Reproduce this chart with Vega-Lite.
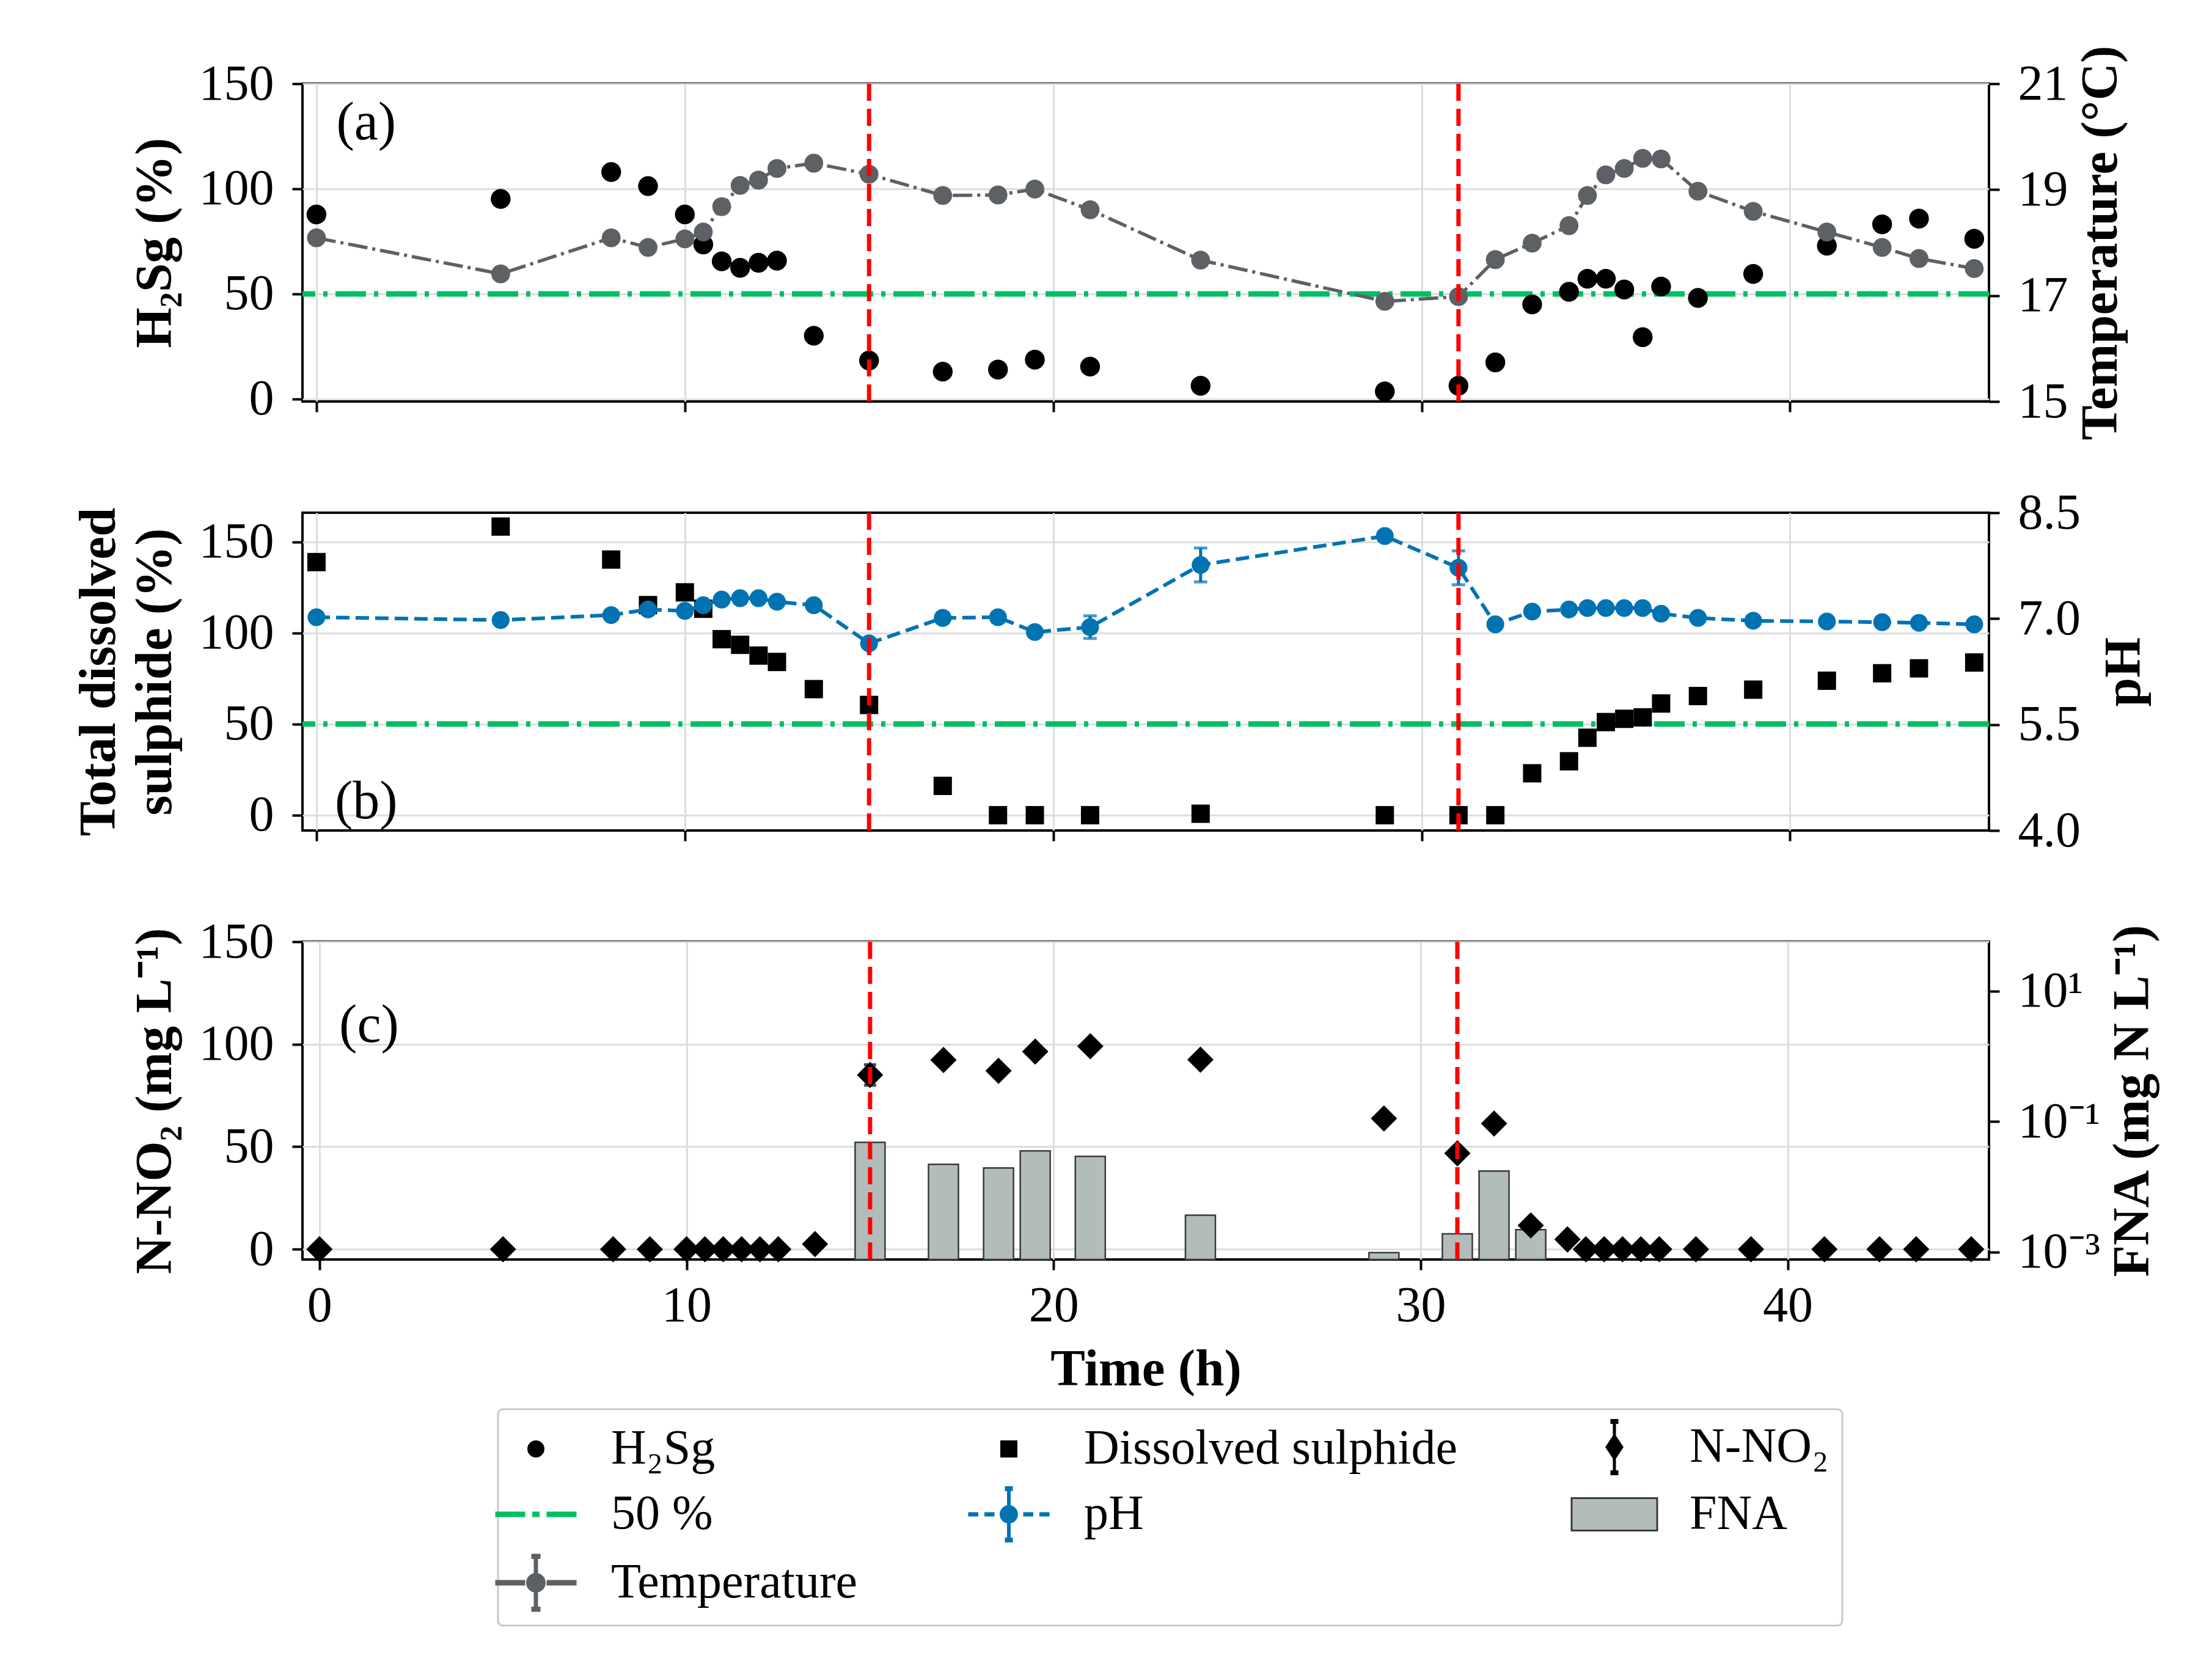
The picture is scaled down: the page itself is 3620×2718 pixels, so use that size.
{
  "$schema": "https://vega.github.io/schema/vega-lite/v6.json",
  "padding": {"left": 117, "top": 72, "right": 40, "bottom": 20},
  "background": "white",
  "datasets": {
    "d": [
      {"t": 0, "h2s": 87.8, "temp": 18.09, "diss": 138.9, "ph": 7.02, "nno2": 0},
      {"t": 5, "h2s": 95.2, "temp": 17.41, "diss": 158.4, "ph": 6.98, "nno2": 0},
      {"t": 8, "h2s": 108, "temp": 18.09, "diss": 140.3, "ph": 7.05, "nno2": 0},
      {"t": 9, "h2s": 101.3, "temp": 17.91, "diss": 115.3, "ph": 7.13, "nno2": 0},
      {"t": 10, "h2s": 87.8, "temp": 18.07, "diss": 122.3, "ph": 7.11, "nno2": 0},
      {"t": 10.5, "h2s": 73.5, "temp": 18.2, "diss": 113.3, "ph": 7.19, "nno2": 0},
      {"t": 11, "h2s": 65.5, "temp": 18.68, "diss": 96.6, "ph": 7.27, "nno2": 0},
      {"t": 11.5, "h2s": 62.4, "temp": 19.08, "diss": 93.5, "ph": 7.29, "nno2": 0},
      {"t": 12, "h2s": 64.8, "temp": 19.18, "diss": 87.6, "ph": 7.29, "nno2": 0},
      {"t": 12.5, "h2s": 65.8, "temp": 19.4, "diss": 84.1, "ph": 7.24, "nno2": 0},
      {"t": 13.5, "h2s": 30.1, "temp": 19.5, "diss": 69.2, "ph": 7.19, "nno2": 2.5},
      {"t": 15, "h2s": 18.3, "temp": 19.29, "diss": 60.5, "ph": 6.65, "nno2": 85},
      {"t": 17, "h2s": 13, "temp": 18.89, "diss": 16.1, "ph": 7.01, "nno2": 92.3},
      {"t": 18.5, "h2s": 14, "temp": 18.9, "diss": 0, "ph": 7.02, "nno2": 87},
      {"t": 19.5, "h2s": 18.7, "temp": 19.01, "diss": 0, "ph": 6.81, "nno2": 96.4},
      {"t": 21, "h2s": 15.4, "temp": 18.62, "diss": 0, "ph": 6.88, "nno2": 99},
      {"t": 24, "h2s": 6.3, "temp": 17.67, "diss": 0.8, "ph": 7.76, "nno2": 92.5},
      {"t": 29, "h2s": 3.6, "temp": 16.89, "diss": 0, "ph": 8.17, "nno2": 63.8},
      {"t": 31, "h2s": 6.3, "temp": 16.98, "diss": 0, "ph": 7.72, "nno2": 46.8},
      {"t": 32, "h2s": 17.4, "temp": 17.68, "diss": 0, "ph": 6.92, "nno2": 61.3},
      {"t": 33, "h2s": 45, "temp": 17.99, "diss": 23, "ph": 7.1, "nno2": 11.6},
      {"t": 34, "h2s": 51, "temp": 18.32, "diss": 29.6, "ph": 7.13, "nno2": 4.8},
      {"t": 34.5, "h2s": 57.2, "temp": 18.89, "diss": 42.5, "ph": 7.15, "nno2": 0},
      {"t": 35, "h2s": 57.2, "temp": 19.28, "diss": 51.1, "ph": 7.15, "nno2": 0},
      {"t": 35.5, "h2s": 52.1, "temp": 19.4, "diss": 52.9, "ph": 7.15, "nno2": 0},
      {"t": 36, "h2s": 29.4, "temp": 19.59, "diss": 53.7, "ph": 7.15, "nno2": 0},
      {"t": 36.5, "h2s": 53.5, "temp": 19.58, "diss": 61.3, "ph": 7.07, "nno2": 0},
      {"t": 37.5, "h2s": 48.1, "temp": 18.97, "diss": 65.4, "ph": 7.01, "nno2": 0},
      {"t": 39, "h2s": 59.5, "temp": 18.59, "diss": 68.9, "ph": 6.97, "nno2": 0},
      {"t": 41, "h2s": 72.9, "temp": 18.2, "diss": 73.8, "ph": 6.96, "nno2": 0},
      {"t": 42.5, "h2s": 83.1, "temp": 17.91, "diss": 77.9, "ph": 6.95, "nno2": 0},
      {"t": 43.5, "h2s": 85.8, "temp": 17.7, "diss": 80.6, "ph": 6.94, "nno2": 0},
      {"t": 45, "h2s": 76.2, "temp": 17.51, "diss": 83.8, "ph": 6.92, "nno2": 0}
    ],
    "fna": [
      {"t": 15, "fna": 0.048},
      {"t": 17, "fna": 0.0222},
      {"t": 18.5, "fna": 0.0195},
      {"t": 19.5, "fna": 0.0356},
      {"t": 21, "fna": 0.0293},
      {"t": 24, "fna": 0.00367},
      {"t": 29, "fna": 0.00098},
      {"t": 31, "fna": 0.0019},
      {"t": 32, "fna": 0.0175},
      {"t": 33, "fna": 0.0022}
    ],
    "pherr": [
      {"t": 17, "lo": 6.94, "hi": 7.08},
      {"t": 18.5, "lo": 6.95, "hi": 7.09},
      {"t": 21, "lo": 6.72, "hi": 7.04},
      {"t": 24, "lo": 7.52, "hi": 8.0},
      {"t": 31, "lo": 7.48, "hi": 7.96}
    ],
    "nerr": [
      {"t": 15, "lo": 80, "hi": 90}
    ],
    "ev": [{"t": 15}, {"t": 31}],
    "leg": [
      {"s": "H₂Sg"}, {"s": "Dissolved sulphide"}, {"s": "N-NO₂"},
      {"s": "50 %"}, {"s": "pH"}, {"s": "FNA"}, {"s": "Temperature"}
    ]
  },
  "config": {
    "font": "Liberation Serif",
    "view": {"stroke": "black", "strokeWidth": 4},
    "axis": {
      "domain": false,
      "ticks": true,
      "tickColor": "black",
      "tickWidth": 4,
      "tickSize": 17,
      "labelFont": "Liberation Serif",
      "labelFontSize": 82,
      "labelColor": "black",
      "labelPadding": 30,
      "labelFlush": false,
      "titleFont": "Liberation Serif",
      "titleFontSize": 85,
      "titleFontWeight": "bold",
      "titleColor": "black",
      "titlePadding": 28,
      "gridColor": "#dddddd",
      "gridWidth": 3
    },
    "axisX": {"labelPadding": 18, "titlePadding": 22}
  },
  "spacing": 182,
  "bounds": "flush",
  "vconcat": [
    {
      "width": 2760,
      "height": 520,
      "layer": [
        {
          "layer": [
            {
              "data": {"values": [{}]},
              "mark": {"type": "rule", "color": "#00bf63", "strokeWidth": 9, "strokeDash": [50, 13, 7, 13]},
              "encoding": {
                "y": {"datum": 50, "type": "quantitative", "scale": {"domain": [-1.2, 150], "nice": false, "zero": false}}
              }
            },
            {
              "data": {"name": "d"},
              "mark": {"type": "point", "filled": true, "shape": "circle", "size": 1050, "color": "black", "opacity": 1},
              "encoding": {
                "x": {"field": "t", "type": "quantitative", "title": null, "scale": {"domain": [-0.38, 45.4], "nice": false, "zero": false},
                      "axis": {"values": [0, 10, 20, 30, 40], "labels": false, "grid": true, "title": null}},
                "y": {"field": "h2s", "type": "quantitative", "title": "H₂Sg (%)", "scale": {"domain": [-1.2, 150], "nice": false, "zero": false},
                      "axis": {"orient": "left", "title": "H₂Sg (%)", "values": [0, 50, 100, 150], "format": "d", "grid": true}}
              }
            },
            {
              "data": {"values": [{}]},
              "mark": {"type": "text", "font": "Liberation Serif", "fontSize": 88, "color": "black"},
              "encoding": {
                "x": {"datum": 1.35, "type": "quantitative"},
                "y": {"datum": 131, "type": "quantitative"},
                "text": {"value": "(a)"}
              }
            }
          ]
        },
        {
          "layer": [
            {
              "data": {"name": "d"},
              "mark": {"type": "line", "color": "#5d6165", "strokeWidth": 5.5, "strokeDash": [32, 8, 5, 8]},
              "encoding": {
                "x": {"field": "t", "type": "quantitative", "title": null, "scale": {"domain": [-0.38, 45.4], "nice": false, "zero": false}},
                "y": {"field": "temp", "type": "quantitative", "title": "Temperature (°C)", "scale": {"domain": [15, 21], "nice": false, "zero": false},
                      "axis": {"orient": "right", "title": "Temperature (°C)", "values": [15, 17, 19, 21], "format": "d", "grid": false, "titleAngle": 270, "titleBaseline": "top", "titlePadding": 12}}
              }
            },
            {
              "data": {"name": "d"},
              "mark": {"type": "point", "filled": true, "shape": "circle", "size": 950, "color": "#5d6165", "opacity": 1},
              "encoding": {
                "x": {"field": "t", "type": "quantitative", "title": null},
                "y": {"field": "temp", "type": "quantitative", "title": "Temperature (°C)", "scale": {"domain": [15, 21], "nice": false, "zero": false}}
              }
            }
          ]
        },
        {
          "data": {"name": "ev"},
          "mark": {"type": "rule", "color": "#ff0000", "strokeWidth": 7, "strokeDash": [28, 13]},
          "encoding": {"x": {"field": "t", "type": "quantitative", "title": null}}
        }
      ],
      "resolve": {"scale": {"y": "independent"}}
    },
    {
      "width": 2760,
      "height": 520,
      "layer": [
        {
          "layer": [
            {
              "data": {"values": [{}]},
              "mark": {"type": "rule", "color": "#00bf63", "strokeWidth": 9, "strokeDash": [50, 13, 7, 13]},
              "encoding": {
                "y": {"datum": 50, "type": "quantitative", "scale": {"domain": [-8.4, 166], "nice": false, "zero": false}}
              }
            },
            {
              "data": {"name": "d"},
              "mark": {"type": "point", "filled": true, "shape": "square", "size": 900, "color": "black", "opacity": 1},
              "encoding": {
                "x": {"field": "t", "type": "quantitative", "title": null, "scale": {"domain": [-0.38, 45.4], "nice": false, "zero": false},
                      "axis": {"values": [0, 10, 20, 30, 40], "labels": false, "grid": true, "title": null}},
                "y": {"field": "diss", "type": "quantitative", "title": ["Total dissolved", "sulphide (%)"], "scale": {"domain": [-8.4, 166], "nice": false, "zero": false},
                      "axis": {"orient": "left", "title": ["Total dissolved", "sulphide (%)"], "titleLineHeight": 92, "values": [0, 50, 100, 150], "format": "d", "grid": true}}
              }
            },
            {
              "data": {"values": [{}]},
              "mark": {"type": "text", "font": "Liberation Serif", "fontSize": 88, "color": "black"},
              "encoding": {
                "x": {"datum": 1.35, "type": "quantitative"},
                "y": {"datum": 7, "type": "quantitative"},
                "text": {"value": "(b)"}
              }
            }
          ]
        },
        {
          "layer": [
            {
              "data": {"name": "d"},
              "mark": {"type": "line", "color": "#0173b2", "strokeWidth": 6, "strokeDash": [22, 10]},
              "encoding": {
                "x": {"field": "t", "type": "quantitative", "title": null, "scale": {"domain": [-0.38, 45.4], "nice": false, "zero": false}},
                "y": {"field": "ph", "type": "quantitative", "title": "pH", "scale": {"domain": [4, 8.5], "nice": false, "zero": false},
                      "axis": {"orient": "right", "title": "pH", "values": [4, 5.5, 7, 8.5], "format": ".1f", "grid": false, "titleAngle": 270, "titleBaseline": "top", "titlePadding": 30}}
              }
            },
            {
              "data": {"name": "pherr"},
              "mark": {"type": "errorbar", "color": "#0173b2", "thickness": 5, "ticks": {"size": 22, "thickness": 5, "color": "#0173b2"}},
              "encoding": {
                "x": {"field": "t", "type": "quantitative", "title": null},
                "y": {"field": "lo", "type": "quantitative", "title": "pH", "scale": {"domain": [4, 8.5], "nice": false, "zero": false}},
                "y2": {"field": "hi"}
              }
            },
            {
              "data": {"name": "d"},
              "mark": {"type": "point", "filled": true, "shape": "circle", "size": 850, "color": "#0173b2", "opacity": 1},
              "encoding": {
                "x": {"field": "t", "type": "quantitative", "title": null},
                "y": {"field": "ph", "type": "quantitative", "title": "pH", "scale": {"domain": [4, 8.5], "nice": false, "zero": false}}
              }
            }
          ]
        },
        {
          "data": {"name": "ev"},
          "mark": {"type": "rule", "color": "#ff0000", "strokeWidth": 7, "strokeDash": [28, 13]},
          "encoding": {"x": {"field": "t", "type": "quantitative", "title": null}}
        }
      ],
      "resolve": {"scale": {"y": "independent"}}
    },
    {
      "width": 2760,
      "height": 520,
      "layer": [
        {
          "data": {"name": "fna"},
          "mark": {"type": "bar", "width": 49, "color": "#b2bcbb", "stroke": "#3a3a3a", "strokeWidth": 2.5, "opacity": 1},
          "encoding": {
            "x": {"field": "t", "type": "quantitative", "title": "Time (h)", "scale": {"domain": [-0.38, 45.4], "nice": false, "zero": false},
                  "axis": {"values": [0, 10, 20, 30, 40], "format": "d", "grid": true, "title": "Time (h)"}},
            "y": {"field": "fna", "type": "quantitative", "title": "FNA (mg N L⁻¹)", "scale": {"type": "log", "domain": [0.00077, 57.1], "nice": false},
                  "axis": {"orient": "right", "title": "FNA (mg N L⁻¹)", "values": [0.001, 0.1, 10], "grid": false,
                           "labelExpr": "datum.value >= 1 ? '10¹' : datum.value >= 0.01 ? '10⁻¹' : '10⁻³'",
                           "titleAngle": 270, "titleBaseline": "top", "titlePadding": 12}},
            "y2": {"datum": 0.00077}
          }
        },
        {
          "layer": [
            {
              "data": {"name": "nerr"},
              "mark": {"type": "errorbar", "color": "black", "thickness": 5, "ticks": {"size": 20, "thickness": 5, "color": "black"}},
              "encoding": {
                "x": {"field": "t", "type": "quantitative", "title": "Time (h)"},
                "y": {"field": "lo", "type": "quantitative", "title": "N-NO₂ (mg L⁻¹)", "scale": {"domain": [-5, 150], "nice": false, "zero": false}},
                "y2": {"field": "hi"}
              }
            },
            {
              "data": {"name": "d"},
              "mark": {"type": "point", "filled": true, "shape": "diamond", "size": 1850, "color": "black", "opacity": 1},
              "encoding": {
                "x": {"field": "t", "type": "quantitative", "title": "Time (h)"},
                "y": {"field": "nno2", "type": "quantitative", "title": "N-NO₂ (mg L⁻¹)", "scale": {"domain": [-5, 150], "nice": false, "zero": false},
                      "axis": {"orient": "left", "title": "N-NO₂ (mg L⁻¹)", "values": [0, 50, 100, 150], "format": "d", "grid": true}}
              }
            },
            {
              "data": {"values": [{}]},
              "mark": {"type": "text", "font": "Liberation Serif", "fontSize": 88, "color": "black"},
              "encoding": {
                "x": {"datum": 1.35, "type": "quantitative"},
                "y": {"datum": 109, "type": "quantitative"},
                "text": {"value": "(c)"}
              }
            }
          ]
        },
        {
          "data": {"name": "ev"},
          "mark": {"type": "rule", "color": "#ff0000", "strokeWidth": 7, "strokeDash": [28, 13]},
          "encoding": {"x": {"field": "t", "type": "quantitative", "title": "Time (h)"}}
        },
        {
          "data": {"name": "leg"},
          "mark": {"type": "point", "filled": true, "opacity": 0},
          "encoding": {
            "color": {
              "field": "s", "type": "nominal",
              "scale": {
                "domain": ["H₂Sg", "Dissolved sulphide", "N-NO₂", "50 %", "pH", "FNA", "Temperature"],
                "range": ["black", "black", "black", "#00bf63", "#0173b2", "#b2bcbb", "#5d6165"]
              },
              "legend": {
                "title": null, "orient": "none", "direction": "horizontal", "legendX": 320, "legendY": 2169, "columns": 3,
                "symbolSize": 10000, "labelOffset": 83, "columnPadding": 180, "rowPadding": 18, "padding": 22,
                "fillColor": "white", "strokeColor": "#c8c8c8", "cornerRadius": 8,
                "labelFont": "Liberation Serif", "labelFontSize": 80, "labelColor": "black", "labelLimit": 2000,
                "symbolOpacity": 1,
                "encode": {
                  "symbols": {"update": {
                    "opacity": {"value": 1},
                    "stroke": {"signal": "datum.value === 'FNA' ? '#3a3a3a' : 'transparent'"},
                    "strokeWidth": {"signal": "datum.value === 'FNA' ? 3 : 0"}
                  }},
                  "legend": {"update": {"strokeWidth": {"value": 3}}}
                }
              }
            },
            "shape": {
              "field": "s", "type": "nominal",
              "scale": {
                "domain": ["H₂Sg", "Dissolved sulphide", "N-NO₂", "50 %", "pH", "FNA", "Temperature"],
                "range": [
                  "M-0.28,0A0.28,0.28,0,1,1,0.28,0A0.28,0.28,0,1,1,-0.28,0Z",
                  "M-0.28,-0.28H0.28V0.28H-0.28Z",
                  "M0,-0.45L0.3,0L0,0.45L-0.3,0Z M-0.05,-0.85H0.05V0.85H-0.05Z M-0.13,-0.92H0.13V-0.76H-0.13Z M-0.13,0.76H0.13V0.92H-0.13Z",
                  "M-1.33,-0.09H-0.35V0.09H-1.33Z M-0.12,-0.09H0.12V0.09H-0.12Z M0.35,-0.09H1.33V0.09H0.35Z",
                  "M-1.33,-0.07H-1.0V0.07H-1.33Z M-0.8,-0.07H-0.47V0.07H-0.8Z M0.47,-0.07H0.8V0.07H0.47Z M1.0,-0.07H1.33V0.07H1.0Z M-0.3,0A0.3,0.3,0,1,1,0.3,0A0.3,0.3,0,1,1,-0.3,0Z M-0.06,-0.85H0.06V0.85H-0.06Z M-0.13,-0.92H0.13V-0.76H-0.13Z M-0.13,0.76H0.13V0.92H-0.13Z",
                  "M-1.4,-0.53H1.4V0.53H-1.4Z",
                  "M-1.33,-0.09H-0.35V0.09H-1.33Z M0.35,-0.09H1.33V0.09H0.35Z M-0.32,0A0.32,0.32,0,1,1,0.32,0A0.32,0.32,0,1,1,-0.32,0Z M-0.07,-0.88H0.07V0.88H-0.07Z M-0.15,-0.95H0.15V-0.78H-0.15Z M-0.15,0.78H0.15V0.95H-0.15Z"
                ]
              },
              "legend": {
                "title": null, "orient": "none", "direction": "horizontal", "legendX": 320, "legendY": 2169, "columns": 3,
                "symbolSize": 10000, "labelOffset": 83, "columnPadding": 180, "rowPadding": 18, "padding": 22,
                "fillColor": "white", "strokeColor": "#c8c8c8", "cornerRadius": 8,
                "labelFont": "Liberation Serif", "labelFontSize": 80, "labelColor": "black", "labelLimit": 2000,
                "symbolOpacity": 1,
                "encode": {
                  "symbols": {"update": {
                    "opacity": {"value": 1},
                    "stroke": {"signal": "datum.value === 'FNA' ? '#3a3a3a' : 'transparent'"},
                    "strokeWidth": {"signal": "datum.value === 'FNA' ? 3 : 0"}
                  }},
                  "legend": {"update": {"strokeWidth": {"value": 3}}}
                }
              }
            }
          }
        }
      ],
      "resolve": {"scale": {"y": "independent"}}
    }
  ]
}
